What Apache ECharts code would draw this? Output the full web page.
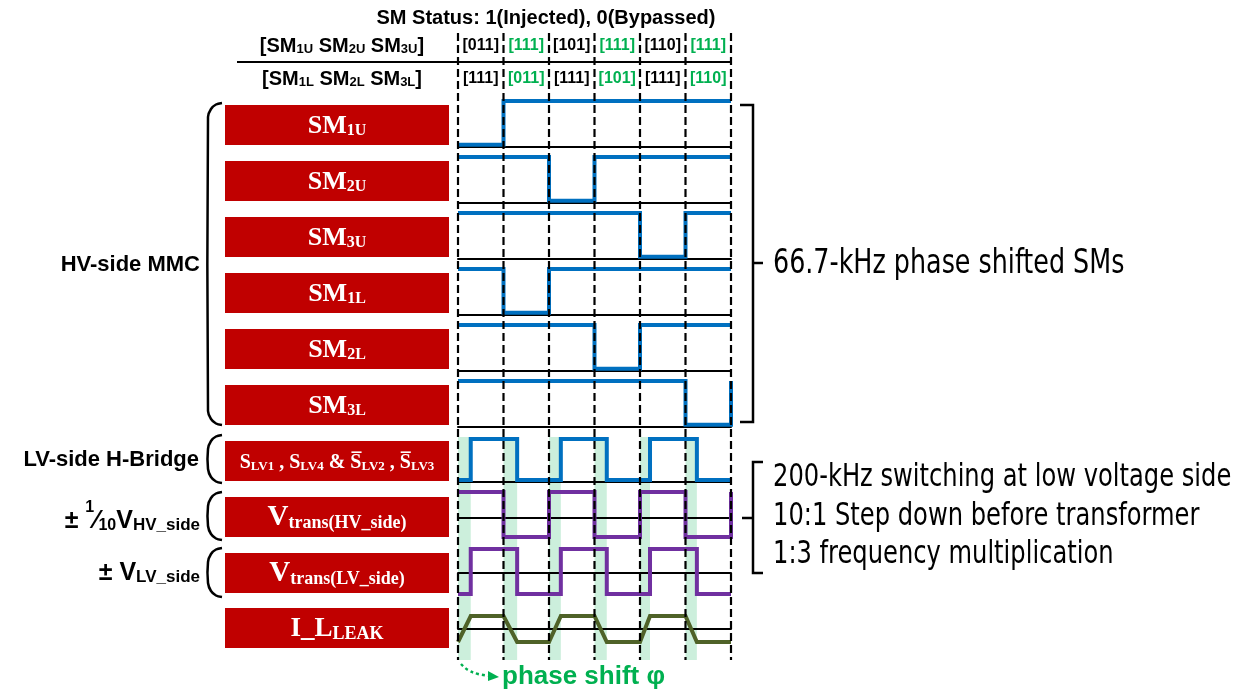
<!DOCTYPE html>
<html><head><meta charset="utf-8">
<script src="https://cdn.jsdelivr.net/npm/echarts@6/dist/echarts.min.js"></script>
<style>html,body{margin:0;padding:0;background:#fff}#c{width:1244px;height:690px}</style>
</head><body><div id="c"></div>
<script>
// ---------------- DATA ----------------
const boundaries = [0, 1, 2, 3, 4, 5, 6];
const upperCodes = ['[011]', '[111]', '[101]', '[111]', '[110]', '[111]'];
const lowerCodes = ['[111]', '[011]', '[111]', '[101]', '[111]', '[110]'];
const codeIsGreen = [false, true, false, true, false, true];
const smLabels = ['1U', '2U', '3U', '1L', '2L', '3L'];
const sm1U = [0, 1, 1, 1, 1, 1];
const sm2U = [1, 1, 0, 1, 1, 1];
const sm3U = [1, 1, 1, 1, 0, 1];
const sm1L = [1, 0, 1, 1, 1, 1];
const sm2L = [1, 1, 1, 0, 1, 1];
const sm3L = [1, 1, 1, 1, 1, 0];
const smEndState = [null, null, null, null, null, 1];
const lvEdges = [0.28, 1.30, 2.26, 3.27, 4.22, 5.25];   // LV switching edges
const hvEdges = [1, 2, 3, 4, 5, 6];                      // transformer HV-side edges
const hvLevels = [1, -0.75];                             // high, low
const lvLevels = [1, -0.9];                              // high, low
const ilTimes  = [0, 0.28, 1.0, 1.30, 2.0, 2.26, 3.0, 3.27, 4.0, 4.22, 5.0, 5.25, 6.0];
const ilLevels = [-1, 1, 1, -1, -1, 1, 1, -1, -1, 1, 1, -1, -1];
const phaseBands = [[0, 0.28], [1, 1.30], [2, 2.26], [3, 3.27], [4, 4.22], [5, 5.25]];
const rightNotes = ['200-kHz switching at low voltage side', '10:1 Step down before transformer', '1:3 frequency multiplication'];

// ---------------- HELPERS ----------------
const BLUE = '#0070C0', PURPLE = '#7030A0', OLIVE = '#4F6228', RED = '#C00000', GREEN = '#00B050';
const SANS = '"Liberation Sans", Arial, sans-serif';
const SERIF = '"Liberation Serif", "Times New Roman", serif';
const NARROW = '"DejaVu Sans Condensed", "DejaVu Sans", sans-serif';

function statePoints(states, endState) {
  const pts = [];
  states.forEach((s, i) => { pts.push([i, s]); pts.push([i + 1, s]); });
  if (endState !== null && endState !== undefined) pts.push([6, endState]);
  return pts;
}
function togglePoints(edges, startHigh, hi, lo) {
  const pts = []; let high = startHigh;
  pts.push([0, high ? hi : lo]);
  edges.forEach(e => { pts.push([e, high ? hi : lo]); high = !high; pts.push([e, high ? hi : lo]); });
  if (edges[edges.length - 1] < 6) pts.push([6, high ? hi : lo]);
  return pts;
}

const smStates = [sm1U, sm2U, sm3U, sm1L, sm2L, sm3L];
const L = 458, W = 273;

const rows = [];
smStates.forEach((st, i) => rows.push({ top: 101 + 56 * i, h: 46, ymin: -0.05, ymax: 1, onZero: false, color: BLUE, data: statePoints(st, smEndState[i]) }));
rows.push({ top: 439, h: 43, ymin: -0.05, ymax: 1, onZero: false, color: BLUE, data: togglePoints(lvEdges, false, 1, 0) });
rows.push({ top: 492, h: 45, ymin: hvLevels[1], ymax: hvLevels[0], onZero: true, color: PURPLE, data: togglePoints(hvEdges, true, hvLevels[0], hvLevels[1]) });
rows.push({ top: 549, h: 45, ymin: lvLevels[1], ymax: lvLevels[0], onZero: true, color: PURPLE, data: togglePoints(lvEdges, false, lvLevels[0], lvLevels[1]) });
rows.push({ top: 616, h: 26, ymin: -1, ymax: 1, onZero: true, color: OLIVE, data: ilTimes.map((t, i) => [t, ilLevels[i]]) });

const grid = [
  { left: L, width: W, top: 33, height: 627 },   // dashed lines
  { left: L, width: W, top: 29, height: 66 },    // status codes
  { left: L, width: W, top: 437, height: 223 }   // phase bands
];
const xAxis = [
  { gridIndex: 0, type: 'value', min: 0, max: 6, show: false },
  { gridIndex: 1, type: 'value', min: 0, max: 6, show: false },
  { gridIndex: 2, type: 'value', min: 0, max: 6, show: false }
];
const yAxis = [
  { gridIndex: 0, type: 'value', min: 0, max: 1, show: false },
  { gridIndex: 1, type: 'category', data: ['lower', 'upper'], show: false },
  { gridIndex: 2, type: 'value', min: 0, max: 1, show: false }
];
const series = [];
rows.forEach((r, i) => {
  const gi = 3 + i;
  grid.push({ left: L, width: W, top: r.top, height: r.h });
  xAxis.push({ gridIndex: gi, type: 'value', min: 0, max: 6, z: 3,
    axisLine: { show: true, onZero: r.onZero, lineStyle: { color: '#000', width: 2 } },
    axisTick: { show: false }, axisLabel: { show: false }, splitLine: { show: false } });
  yAxis.push({ gridIndex: gi, type: 'value', min: r.ymin, max: r.ymax, show: false, splitLine: { show: false } });
  series.push({ type: 'line', xAxisIndex: gi, yAxisIndex: gi, data: r.data, showSymbol: false, symbol: 'none',
    clip: false, z: 5, lineStyle: { color: r.color, width: 4, join: 'miter' }, silent: true });
});

// phase bands
series.push({ type: 'custom', xAxisIndex: 2, yAxisIndex: 2, z: 1, silent: true,
  data: phaseBands,
  renderItem: (p, api) => {
    const a = api.coord([api.value(0), 1]), b = api.coord([api.value(1), 0]);
    return { type: 'rect', shape: { x: a[0], y: a[1], width: b[0] - a[0], height: b[1] - a[1] },
      style: { fill: 'rgba(0,176,80,0.2)' } };
  } });
// dashed boundaries
series.push({ type: 'custom', xAxisIndex: 0, yAxisIndex: 0, z: 10, silent: true,
  data: boundaries.map(t => [t, 0]),
  renderItem: (p, api) => {
    const a = api.coord([api.value(0), 1]), b = api.coord([api.value(0), 0]);
    return { type: 'line', shape: { x1: a[0], y1: a[1], x2: b[0], y2: b[1] },
      style: { stroke: '#000', lineWidth: 2.2, lineDash: [8, 4] } };
  } });
// status codes
const codeTexts = upperCodes.concat(lowerCodes);
const codeColors = codeIsGreen.concat(codeIsGreen);
series.push({ type: 'custom', xAxisIndex: 1, yAxisIndex: 1, z: 12, silent: true,
  data: upperCodes.map((c, i) => [i + 0.5, 1]).concat(lowerCodes.map((c, i) => [i + 0.5, 0])),
  renderItem: (p, api) => {
    const c = api.coord([api.value(0), api.value(1)]);
    return { type: 'text', x: c[0], y: c[1],
      style: { text: codeTexts[p.dataIndex], fill: codeColors[p.dataIndex] ? GREEN : '#000',
        font: 'bold 16px ' + SANS, align: 'center', verticalAlign: 'middle' } };
  } });

// ---------------- GRAPHIC (labels, boxes, braces) ----------------
const g = [];
const boxTops = [105, 161, 217, 273, 329, 385, 441, 497, 553, 608];
boxTops.forEach(t => g.push({ type: 'rect', shape: { x: 225, y: t, width: 224, height: 40 }, style: { fill: RED }, z: 1 }));

function rtext(x, y, text, rich, align) {
  return { type: 'text', x: x, y: y, z: 5,
    style: { text: text, rich: rich, align: align || 'center', verticalAlign: 'middle', fill: '#000' } };
}
const smRich = {
  b: { fontFamily: SERIF, fontWeight: 'bold', fontSize: 26, lineHeight: 28, verticalAlign: 'bottom', fill: '#fff' },
  s: { fontFamily: SERIF, fontWeight: 'bold', fontSize: 16, lineHeight: 14, verticalAlign: 'bottom', fill: '#fff' }
};
smLabels.forEach((lab, i) => g.push(rtext(337, boxTops[i] + 20, '{b|SM}{s|' + lab + '}', smRich)));
const slvRich = {
  b: { fontFamily: SERIF, fontWeight: 'bold', fontSize: 20, lineHeight: 24, verticalAlign: 'bottom', fill: '#fff' },
  s: { fontFamily: SERIF, fontWeight: 'bold', fontSize: 13, lineHeight: 12, verticalAlign: 'bottom', fill: '#fff' }
};
g.push(rtext(337, boxTops[6] + 20, '{b|S}{s|LV1}{b| , S}{s|LV4}{b| & S\u0305}{s|LV2}{b| , S\u0305}{s|LV3}', slvRich));
const vRich = {
  b: { fontFamily: SERIF, fontWeight: 'bold', fontSize: 29, lineHeight: 30, verticalAlign: 'bottom', fill: '#fff' },
  s: { fontFamily: SERIF, fontWeight: 'bold', fontSize: 18, lineHeight: 14, verticalAlign: 'bottom', fill: '#fff' }
};
g.push(rtext(337, boxTops[7] + 20, '{b|V}{s|trans(HV_side)}', vRich));
g.push(rtext(337, boxTops[8] + 20, '{b|V}{s|trans(LV_side)}', vRich));
const iRich = {
  b: { fontFamily: SERIF, fontWeight: 'bold', fontSize: 27, lineHeight: 30, verticalAlign: 'bottom', fill: '#fff' },
  c: { fontFamily: SERIF, fontWeight: 'bold', fontSize: 18, lineHeight: 21, verticalAlign: 'bottom', fill: '#fff' }
};
g.push(rtext(337, boxTops[9] + 20, '{b|I_L}{c|LEAK}', iRich));

// header texts
g.push({ type: 'text', x: 546, y: 18, z: 5, style: { text: 'SM Status: 1(Injected), 0(Bypassed)', font: 'bold 20px ' + SANS, fill: '#000', align: 'center', verticalAlign: 'middle' } });
const hdRich = {
  b: { fontFamily: SANS, fontWeight: 'bold', fontSize: 20, lineHeight: 22, verticalAlign: 'bottom', fill: '#000' },
  s: { fontFamily: SANS, fontWeight: 'bold', fontSize: 13, lineHeight: 14, verticalAlign: 'bottom', fill: '#000' }
};
g.push(rtext(342, 45, '{b|[SM}{s|1U}{b| SM}{s|2U}{b| SM}{s|3U}{b|]}', hdRich));
g.push(rtext(342, 78, '{b|[SM}{s|1L}{b| SM}{s|2L}{b| SM}{s|3L}{b|]}', hdRich));
g.push({ type: 'line', z: 5, shape: { x1: 237, y1: 62, x2: 731, y2: 62 }, style: { stroke: '#000', lineWidth: 2 } });

// left group labels
const lbl = (x, y, t) => ({ type: 'text', x: x, y: y, z: 5, style: { text: t, font: 'bold 22px ' + SANS, fill: '#000', align: 'right', verticalAlign: 'middle' } });
g.push(lbl(200, 265, 'HV-side MMC'));
g.push(lbl(199, 460, 'LV-side H-Bridge'));
const pmRich = {
  a: { fontFamily: SANS, fontWeight: 'bold', fontSize: 25, lineHeight: 28, verticalAlign: 'bottom', fill: '#000' },
  f: { fontFamily: SANS, fontWeight: 'bold', fontSize: 25, lineHeight: 28, verticalAlign: 'bottom', fill: '#000' },
  p: { fontFamily: SANS, fontWeight: 'bold', fontSize: 16, lineHeight: 34, verticalAlign: 'top', fill: '#000' },
  n: { fontFamily: SANS, fontWeight: 'bold', fontSize: 16, lineHeight: 20, verticalAlign: 'bottom', fill: '#000' },
  s: { fontFamily: SANS, fontWeight: 'bold', fontSize: 17, lineHeight: 16, verticalAlign: 'bottom', fill: '#000' }
};
g.push(rtext(200, 517, '{a|± }{p|1}{f|\u2044}{n|10}{a|V}{s|HV_side}', pmRich, 'right'));
g.push(rtext(200, 572, '{a|± V}{s|LV_side}', pmRich, 'right'));

// braces
function parenBrace(x, y0, y1) {
  return { type: 'polyline', z: 5, shape: { points: [[x + 14, y0], [x + 8, y0 + 1.5], [x + 3, y0 + 6], [x, y0 + 14], [x, y1 - 14], [x + 3, y1 - 6], [x + 8, y1 - 1.5], [x + 14, y1]], smooth: 0.3 },
    style: { stroke: '#000', lineWidth: 2.5, fill: null } };
}
g.push(parenBrace(208, 103, 425));
g.push(parenBrace(208, 435, 483));
g.push(parenBrace(208, 492, 540));
g.push(parenBrace(208, 548, 597));
g.push({ type: 'polyline', z: 5, shape: { points: [[740, 105], [753, 105], [753, 422], [740, 422]] }, style: { stroke: '#000', lineWidth: 2.5, fill: null } });
g.push({ type: 'line', z: 5, shape: { x1: 753, y1: 263, x2: 763, y2: 263 }, style: { stroke: '#000', lineWidth: 2.5 } });
g.push({ type: 'polyline', z: 5, shape: { points: [[763, 462], [753, 462], [753, 573], [763, 573]] }, style: { stroke: '#000', lineWidth: 2.5, fill: null } });
g.push({ type: 'line', z: 5, shape: { x1: 753, y1: 518, x2: 742, y2: 518 }, style: { stroke: '#000', lineWidth: 2.5 } });

// right texts (condensed look via horizontal scaling)
const rt = (y, t, fs, sx) => ({ type: 'text', x: 773, y: y, z: 5, scaleX: sx, originX: 0, originY: 0,
  style: { text: t, font: fs + 'px ' + NARROW, fill: '#000', align: 'left', verticalAlign: 'middle' } });
g.push(rt(264, '66.7-kHz phase shifted SMs', 34, 0.83));
[478, 517, 555].forEach((y, i) => g.push(rt(y, rightNotes[i], 32, 0.84)));

// phase shift annotation
g.push({ type: 'polyline', z: 5, shape: { points: [[461, 664], [468, 670], [478, 674], [490, 676]], smooth: 0.4 }, style: { stroke: GREEN, lineWidth: 2.5, lineDash: [3, 3], fill: null } });
g.push({ type: 'polygon', z: 5, shape: { points: [[499, 677], [488, 671], [488, 681]] }, style: { fill: GREEN } });
g.push({ type: 'text', x: 502, y: 677, z: 5, style: { text: 'phase shift φ', font: 'bold 26px ' + SANS, fill: GREEN, align: 'left', verticalAlign: 'middle' } });

const chart = echarts.init(document.getElementById('c'), null, { renderer: 'canvas' });
chart.setOption({ animation: false, backgroundColor: '#fff', grid: grid, xAxis: xAxis, yAxis: yAxis, series: series, graphic: g });
</script></body></html>
